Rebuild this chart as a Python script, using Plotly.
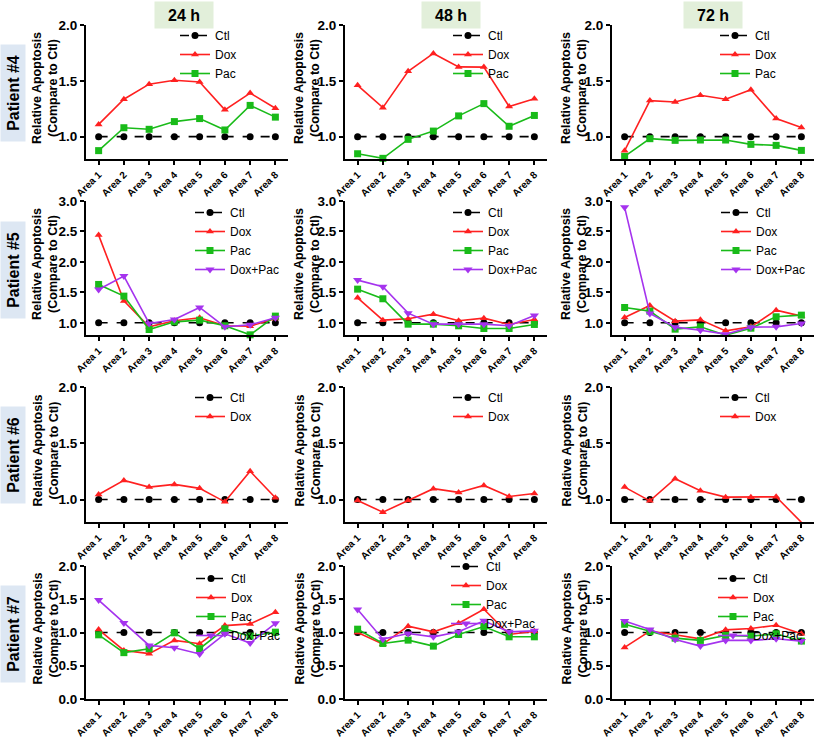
import plotly.graph_objects as go

# ---------------- data ----------------
areas = ["Area 1", "Area 2", "Area 3", "Area 4", "Area 5", "Area 6", "Area 7", "Area 8"]
times = ["24 h", "48 h", "72 h"]
patients = ["Patient #4", "Patient #5", "Patient #6", "Patient #7"]
y_title = "Relative Apoptosis<br>(Compare to Ctl)"

ctl = [1.0, 1.0, 1.0, 1.0, 1.0, 1.0, 1.0, 1.0]

# Patient #4
p4_24_dox = [1.11, 1.335, 1.47, 1.505, 1.49, 1.24, 1.39, 1.255]
p4_24_pac = [0.875, 1.08, 1.066, 1.135, 1.162, 1.06, 1.28, 1.175]
p4_48_dox = [1.46, 1.26, 1.585, 1.745, 1.625, 1.623, 1.27, 1.34]
p4_48_pac = [0.847, 0.806, 0.976, 1.05, 1.186, 1.296, 1.093, 1.19]
p4_72_dox = [0.875, 1.323, 1.311, 1.371, 1.335, 1.42, 1.162, 1.081]
p4_72_pac = [0.823, 0.982, 0.967, 0.970, 0.970, 0.931, 0.922, 0.877]

# Patient #5
p5_24_dox = [2.44, 1.36, 0.934, 1.033, 1.082, 0.951, 0.945, 1.071]
p5_24_pac = [1.63, 1.438, 0.89, 1.016, 1.044, 0.951, 0.803, 1.11]
p5_24_dp = [1.548, 1.767, 0.99, 1.055, 1.252, 0.934, 0.967, 1.082]
p5_48_dox = [1.411, 1.044, 1.066, 1.142, 1.033, 1.077, 0.973, 1.055]
p5_48_pac = [1.553, 1.395, 0.978, 0.978, 0.951, 0.907, 0.907, 0.973]
p5_48_dp = [1.701, 1.592, 1.159, 0.978, 0.978, 0.978, 0.951, 1.121]
p5_72_dox = [1.088, 1.285, 1.027, 1.049, 0.868, 0.934, 1.208, 1.11]
p5_72_pac = [1.252, 1.192, 0.896, 0.934, 0.797, 0.912, 1.099, 1.126]
p5_72_dp = [2.896, 1.153, 0.929, 0.879, 0.814, 0.929, 0.934, 0.989]

# Patient #6
p6_24_dox = [1.045, 1.17, 1.11, 1.134, 1.099, 0.979, 1.251, 1.015]
p6_48_dox = [0.991, 0.887, 0.991, 1.096, 1.063, 1.125, 1.027, 1.054]
p6_72_dox = [1.11, 0.988, 1.185, 1.078, 1.021, 1.021, 1.024, 0.797]

# Patient #7
p7_24_dox = [1.045, 0.731, 0.682, 0.881, 0.831, 1.104, 1.129, 1.303]
p7_24_pac = [0.965, 0.697, 0.756, 0.995, 0.756, 1.055, 0.945, 1.005]
p7_24_dp = [1.488, 1.144, 0.806, 0.771, 0.677, 0.98, 0.841, 1.139]
p7_48_dox = [1.0, 0.825, 1.095, 1.01, 1.14, 1.35, 0.97, 1.02]
p7_48_pac = [1.05, 0.835, 0.885, 0.795, 0.97, 1.09, 0.935, 0.935]
p7_48_dp = [1.345, 0.9, 0.985, 0.935, 1.01, 1.175, 1.01, 1.025]
p7_72_dox = [0.776, 1.02, 0.965, 0.905, 1.04, 1.06, 1.109, 0.98]
p7_72_pac = [1.124, 1.015, 0.915, 0.881, 0.955, 0.945, 0.98, 0.871]
p7_72_dp = [1.174, 1.045, 0.896, 0.796, 0.881, 0.881, 0.905, 0.871]

y_ranges = [[0.8, 2.0], [0.8, 3.0], [0.8, 2.0], [0.0, 2.0]]
y_ticks = [[1.0, 1.5, 2.0], [1.0, 1.5, 2.0, 2.5, 3.0], [1.0, 1.5, 2.0], [0.0, 0.5, 1.0, 1.5, 2.0]]

cells = [
    [[("Dox", p4_24_dox), ("Pac", p4_24_pac)],
     [("Dox", p4_48_dox), ("Pac", p4_48_pac)],
     [("Dox", p4_72_dox), ("Pac", p4_72_pac)]],
    [[("Dox", p5_24_dox), ("Pac", p5_24_pac), ("Dox+Pac", p5_24_dp)],
     [("Dox", p5_48_dox), ("Pac", p5_48_pac), ("Dox+Pac", p5_48_dp)],
     [("Dox", p5_72_dox), ("Pac", p5_72_pac), ("Dox+Pac", p5_72_dp)]],
    [[("Dox", p6_24_dox)], [("Dox", p6_48_dox)], [("Dox", p6_72_dox)]],
    [[("Dox", p7_24_dox), ("Pac", p7_24_pac), ("Dox+Pac", p7_24_dp)],
     [("Dox", p7_48_dox), ("Pac", p7_48_pac), ("Dox+Pac", p7_48_dp)],
     [("Dox", p7_72_dox), ("Pac", p7_72_pac), ("Dox+Pac", p7_72_dp)]],
]

# ---------------- styling / layout ----------------
W, H = 817, 741
FONT = "Arial, Liberation Sans, sans-serif"
styles = {
    "Ctl": dict(color="black", symbol="circle", size=7, dash="dash"),
    "Dox": dict(color="#ff2020", symbol="triangle-up", size=7, dash="solid"),
    "Pac": dict(color="#19bb19", symbol="square", size=7, dash="solid"),
    "Dox+Pac": dict(color="#a533ee", symbol="triangle-down", size=8, dash="solid"),
}
col_px = [(86, 288), (345, 547), (612, 814)]
row_px = [(25, 159), (201, 335), (387, 522), (566, 699)]
ytitle_x = [45, 307, 574]
legend_text_px = [
    [(222, 35), (495, 35), (762, 35)],
    [(237, 212), (495, 212), (763, 212)],
    [(237, 397), (495, 397), (762, 397)],
    [(238, 578), (493, 566), (760, 578)],
]

fig = go.Figure()
layout = dict(
    width=W, height=H, margin=dict(l=0, r=0, t=0, b=0, autoexpand=False),
    paper_bgcolor="white", plot_bgcolor="white",
    font=dict(family=FONT, color="black"),
    annotations=[],
)

k = 0
for r in range(4):
    for c in range(3):
        k += 1
        xa = "x" if k == 1 else f"x{k}"
        ya = "y" if k == 1 else f"y{k}"
        lg = "legend" if k == 1 else f"legend{k}"
        series = [("Ctl", ctl)] + cells[r][c]
        for name, vals in series:
            st = styles[name]
            fig.add_trace(go.Scatter(
                x=areas, y=vals, name=name, mode="lines+markers",
                xaxis=xa, yaxis=ya, legend=lg, showlegend=True,
                line=dict(color=st["color"], width=1.6, dash=st["dash"]),
                marker=dict(symbol=st["symbol"], size=st["size"], color=st["color"]),
                cliponaxis=False,
            ))
        x0, x1 = col_px[c]
        y0, y1 = row_px[r]
        layout["xaxis" if k == 1 else f"xaxis{k}"] = dict(
            domain=[x0 / W, x1 / W], anchor=ya, type="category",
            range=[-0.5, 7.5], showline=True, linecolor="black", linewidth=2,
            ticks="outside", ticklen=4, tickwidth=2, tickcolor="black",
            tickangle=-45, showgrid=False, zeroline=False, automargin=False,
            tickfont=dict(family=FONT, size=10, color="black", weight="bold"),
        )
        layout["yaxis" if k == 1 else f"yaxis{k}"] = dict(
            domain=[1 - y1 / H, 1 - y0 / H], anchor=xa,
            range=y_ranges[r], tickvals=y_ticks[r], tickformat=".1f",
            showline=True, linecolor="black", linewidth=2,
            ticks="outside", ticklen=4, tickwidth=2, tickcolor="black",
            showgrid=False, zeroline=False, automargin=False,
            tickfont=dict(family=FONT, size=13.5, color="black", weight="bold"),
        )
        # y-axis title (placed as rotated text beside the axis)
        layout["annotations"].append(dict(
            text=f"<b>{y_title}</b>", x=ytitle_x[c] / W, y=1 - ((y0 + y1) / 2 - 4) / H,
            xref="paper", yref="paper", xanchor="center", yanchor="middle",
            showarrow=False, textangle=-90,
            font=dict(family=FONT, size=12.5, color="black"),
        ))
        tx, ty = legend_text_px[r][c]
        layout[lg] = dict(
            x=(tx - 47) / W, y=1 - (ty - 14) / H, xanchor="left", yanchor="top",
            bgcolor="rgba(0,0,0,0)", borderwidth=0,
            font=dict(family=FONT, size=12, color="black"),
            tracegroupgap=0,
        )

# column headers
header_x = [184, 451, 713]
for i, t in enumerate(times):
    layout["annotations"].append(dict(
        text=f"<b>{t}</b>", x=header_x[i] / W, y=1 - 15 / H, xref="paper", yref="paper",
        xanchor="center", yanchor="middle",
        showarrow=False, bgcolor="#e2efda", width=56, height=24,
        font=dict(family=FONT, size=16, color="black"),
    ))

# row labels
row_label_y = [93, 270, 455, 634]
for i, p in enumerate(patients):
    layout["annotations"].append(dict(
        text=f"<b>{p}</b>", x=13 / W, y=1 - row_label_y[i] / H, xref="paper", yref="paper",
        xanchor="center", yanchor="middle",
        showarrow=False, textangle=-90, bgcolor="#dde7f3", width=94, height=22,
        font=dict(family=FONT, size=16, color="black"),
    ))

fig.update_layout(**layout)
fig.write_html(
    "out.html",
    config={"displayModeBar": False},
    post_script="document.body.style.margin='0px';document.body.style.overflow='hidden';",
)
